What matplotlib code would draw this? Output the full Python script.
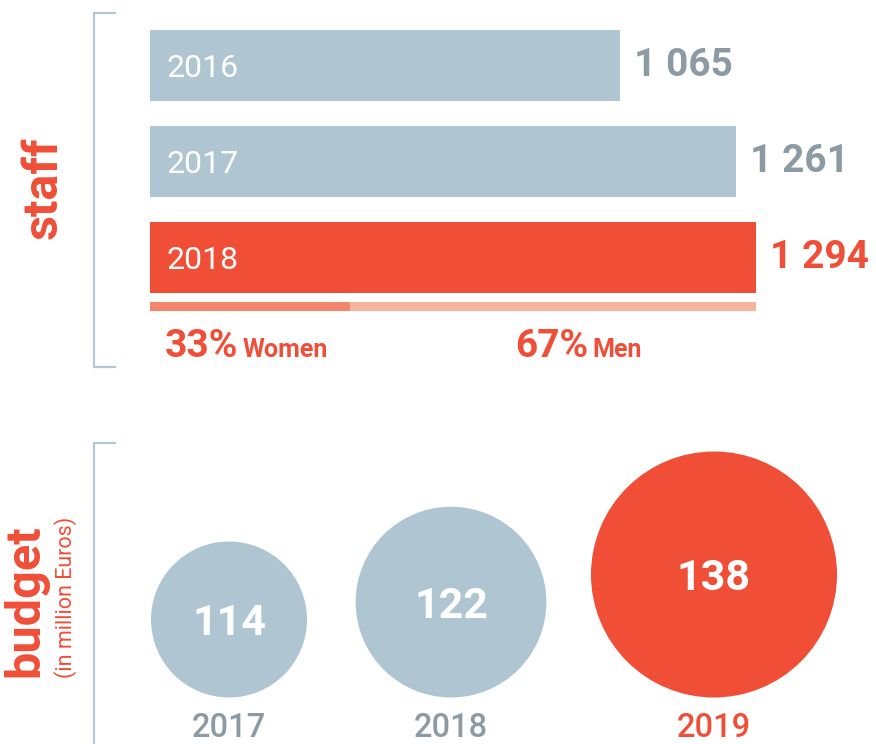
import numpy as np
import matplotlib.pyplot as plt
from matplotlib.patches import Circle

plt.rcParams['font.family'] = ['Roboto', 'DejaVu Sans']

# data
staff_years = ['2016', '2017', '2018']
staff_counts = [1065, 1261, 1294]
women_share = 33
men_share = 67
budget_years = ['2017', '2018', '2019']
budget_values = [114, 122, 138]

# colours
GREY_BLUE = '#afc5d2'
RED = '#f04e37'
GREY_TEXT = '#8c9ba3'
WOMEN_C = '#f4866b'
MEN_C = '#f8b59d'
BRACKET = '#b4c8d4'

W, H = 876, 744
PT = 0.72  # points per pixel at dpi 100
fig = plt.figure(figsize=(W / 100, H / 100), dpi=100)

# overlay axes in pixel units (y down)
ax = fig.add_axes([0, 0, 1, 1])
ax.set_xlim(0, W)
ax.set_ylim(H, 0)
ax.set_aspect('equal')
ax.axis('off')


def px_axes(x0, y0, x1, y1):
    return fig.add_axes([x0 / W, 1 - y1 / H, (x1 - x0) / W, (y1 - y0) / H])


# ---- staff bars ----
row = 96.0
bax = px_axes(150, 65.5 - row / 2, W, 65.5 + row * 3)
x0 = 272                      # axis starts here (bars are not drawn from zero)
px_per_unit = 0.593
bax.set_xlim(x0, x0 + (W - 150) / px_per_unit)
bax.set_ylim(3.0, -0.5)
bax.axis('off')

bar_colors = [GREY_BLUE, GREY_BLUE, RED]
label_colors = [GREY_TEXT, GREY_TEXT, RED]
bax.barh(range(len(staff_counts)), staff_counts, height=0.73, color=bar_colors)

for i, (yr, v) in enumerate(zip(staff_years, staff_counts)):
    bax.annotate(yr, xy=(x0, i), xytext=(17 * PT, -3 * PT), textcoords='offset points',
                 color='white', fontsize=23, va='center', ha='left')
    bax.annotate(f'{v:,}'.replace(',', ' '), xy=(v, i), xytext=(14 * PT, 0),
                 textcoords='offset points', color=label_colors[i],
                 fontsize=28, fontweight='bold', va='center', ha='left')

# gender split under the latest bar
total = staff_counts[-1]
women_end = x0 + women_share / 100 * (total - x0)
gy = (306.5 - 65.5) / row
bax.barh(gy, women_end, height=9 / row, color=WOMEN_C)
bax.barh(gy, total - women_end, left=women_end, height=9 / row, color=MEN_C)

fig.canvas.draw()
renderer = fig.canvas.get_renderer()
for x, pct, lab in [(165, women_share, 'Women'), (515, men_share, 'Men')]:
    t = ax.text(x, 357, f'{pct}%', color=RED, fontsize=28, fontweight='bold',
                va='baseline', ha='left')
    bb = t.get_window_extent(renderer)
    ax.text(bb.x1 + 4, 357, lab, color=RED, fontsize=18, fontweight='bold',
            va='baseline', ha='left')

# ---- budget circles ----
# circle area grows with value above a baseline
r_lo, r_hi = 78.0, 123.0
k = (r_hi ** 2 - r_lo ** 2) / (budget_values[-1] - budget_values[0])
base = budget_values[0] - r_lo ** 2 / k
radii = [np.sqrt(k * (v - base)) for v in budget_values]
centers_x = [229, 451, 714]
bottom = 697.5
circ_colors = [GREY_BLUE, GREY_BLUE, RED]
year_colors = [GREY_TEXT, GREY_TEXT, RED]
for cx, r, v, yr, cc, yc in zip(centers_x, radii, budget_values, budget_years,
                                circ_colors, year_colors):
    cy = bottom - r
    ax.add_patch(Circle((cx, cy), r, color=cc, lw=0))
    ax.text(cx, cy + 4, str(v), color='white', fontsize=31, fontweight='bold',
            ha='center', va='center')
    ax.text(cx, 737, yr, color=yc, fontsize=23.5, fontweight='medium',
            ha='center', va='baseline')

# ---- brackets and side titles ----
ax.plot([115, 94, 94, 115], [13, 13, 367, 367], color=BRACKET, lw=1.6,
        solid_joinstyle='miter')
ax.plot([115, 94, 94], [443, 443, H + 5], color=BRACKET, lw=1.6,
        solid_joinstyle='miter', clip_on=False)

ax.text(57, 188, 'staff', color=RED, fontsize=35, fontweight='bold', rotation=90,
        rotation_mode='anchor', ha='center', va='baseline')
ax.text(38, 677, 'budget', color=RED, fontsize=35, fontweight='bold', rotation=90,
        rotation_mode='anchor', ha='left', va='baseline')
ax.text(72, 678, '(in million Euros)', color=RED, fontsize=15.5, rotation=90,
        rotation_mode='anchor', ha='left', va='baseline')

fig.savefig('out.png', dpi=100)
